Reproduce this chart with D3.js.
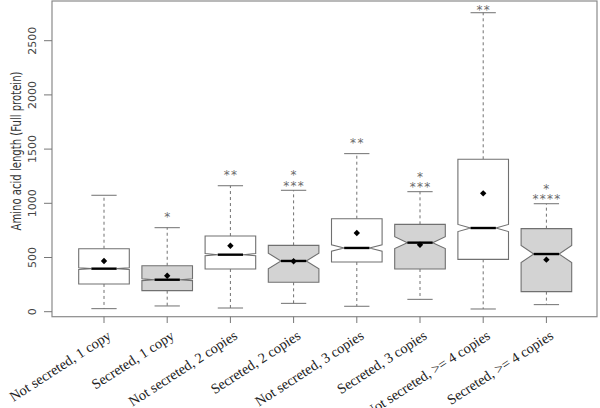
<!DOCTYPE html>
<html><head><meta charset="utf-8">
<script src="https://cdn.jsdelivr.net/npm/d3@7"></script>
<style>body{margin:0;background:#fff}svg{display:block}</style>
</head><body>
<svg id="c" width="600" height="408"></svg>
<script>
const categories = ["Not secreted, 1 copy","Secreted, 1 copy","Not secreted, 2 copies","Secreted, 2 copies","Not secreted, 3 copies","Secreted, 3 copies","Not secreted, >= 4 copies","Secreted, >= 4 copies"];
const secreted   = [false,true,false,true,false,true,false,true];
const whiskerLow = [28, 53, 34, 77, 50, 114, 25, 65];
const q1         = [256, 194, 394, 271, 458, 394, 483, 185];
const median     = [397, 295, 526, 468, 588, 637, 772, 532];
const q3         = [581, 424, 698, 612, 858, 806, 1406, 766];
const whiskerHigh= [1074, 775, 1162, 1120, 1458, 1107, 2758, 996];
const means      = [468, 332, 609, 465, 726, 618, 1092, 480];
const notchHalf  = [8, 8, 10, 72, 30, 55, 33, 78];
const sigLower   = ["", "*", "**", "***", "**", "***", "**", "****"];
const sigUpper   = ["", "", "", "*", "", "*", "", "*"];
const yTicks     = [0, 500, 1000, 1500, 2000, 2500];

const svg = d3.select("#c");
const frame = {l:52, r:597, t:1, b:316.7};
const x = d3.scaleLinear().domain([0, categories.length-1]).range([104, 546.4]);
const y = d3.scaleLinear().domain([0, 2500]).range([311.7, 40.7]);
const boxW = 50.6;
const gray = "#707070";

svg.append("rect").attr("x",frame.l).attr("y",frame.t).attr("width",frame.r-frame.l).attr("height",frame.b-frame.t)
  .attr("fill","none").attr("stroke","#8a8a8a").attr("stroke-width",1.2);

const yAxis = svg.append("g");
yAxis.selectAll("line").data(yTicks).join("line")
  .attr("x1",44).attr("x2",frame.l).attr("y1",d=>y(d)).attr("y2",d=>y(d)).attr("stroke","#777");
yAxis.selectAll("text").data(yTicks).join("text")
  .attr("transform",d=>`translate(36,${y(d)}) rotate(-90)`)
  .attr("text-anchor","middle").attr("font-family","DejaVu Sans").attr("font-size",11)
  .attr("fill","#444").text(d=>d);
svg.append("text").attr("transform","translate(21,151) rotate(-90)")
  .attr("text-anchor","middle").attr("font-family","DejaVu Sans").attr("font-size",14)
  .attr("textLength",159).attr("lengthAdjust","spacingAndGlyphs")
  .attr("fill","#333").text("Amino acid length (Full protein)");

const xa = svg.append("g");
xa.selectAll("line").data(categories).join("line")
  .attr("x1",(d,i)=>x(i)).attr("x2",(d,i)=>x(i)).attr("y1",frame.b).attr("y2",323).attr("stroke","#777");
xa.selectAll("text").data(categories).join("text")
  .attr("transform",(d,i)=>`translate(${x(i)+8},338) rotate(-33)`)
  .attr("text-anchor","end").attr("font-family","Liberation Serif").attr("font-size",14.3)
  .attr("fill","#222").text(d=>d);

const g = svg.append("g");
categories.forEach((c,i)=>{
  const cx = x(i), L = cx-boxW/2, R = cx+boxW/2;
  g.append("line").attr("x1",cx).attr("x2",cx).attr("y1",y(q3[i])).attr("y2",y(whiskerHigh[i]))
    .attr("stroke",gray).attr("stroke-dasharray","3,3");
  g.append("line").attr("x1",cx).attr("x2",cx).attr("y1",y(q1[i])).attr("y2",y(whiskerLow[i]))
    .attr("stroke",gray).attr("stroke-dasharray","3,3");
  [whiskerHigh[i], whiskerLow[i]].forEach(v=>{
    g.append("line").attr("x1",cx-boxW/4).attr("x2",cx+boxW/4).attr("y1",y(v)).attr("y2",y(v)).attr("stroke",gray);
  });
  const m = y(median[i]), nu = y(median[i]+notchHalf[i]), nl = y(median[i]-notchHalf[i]);
  const pts = [[L,y(q3[i])],[R,y(q3[i])],[R,nu],[R-boxW/4,m],[R,nl],[R,y(q1[i])],[L,y(q1[i])],[L,nl],[L+boxW/4,m],[L,nu]];
  g.append("path").attr("d","M"+pts.map(p=>p.join(",")).join("L")+"Z")
    .attr("fill",secreted[i]?"#d3d3d3":"#fff").attr("stroke",gray).attr("stroke-width",1.1);
  g.append("line").attr("x1",L+boxW/4).attr("x2",R-boxW/4).attr("y1",m).attr("y2",m)
    .attr("stroke","#000").attr("stroke-width",2.4);
  const my = y(means[i]), s = 3.2;
  g.append("path").attr("d",`M${cx},${my-s}L${cx+s},${my}L${cx},${my+s}L${cx-s},${my}Z`).attr("fill","#000");
  const top = y(whiskerHigh[i]);
  const lowerC = Math.max(6.5, top - (sigUpper[i] ? 7.5 : 14));
  const star = (txt, cy) => g.append("text").attr("x",cx+0.6).attr("y",cy+7)
    .attr("text-anchor","middle").attr("font-family","DejaVu Sans").attr("font-size",12)
    .attr("letter-spacing",1.3).attr("fill","#6a6a6a").text(txt);
  if (sigLower[i]) star(sigLower[i], lowerC);
  if (sigUpper[i]) star(sigUpper[i], top - 18);
});
</script>
</body></html>
